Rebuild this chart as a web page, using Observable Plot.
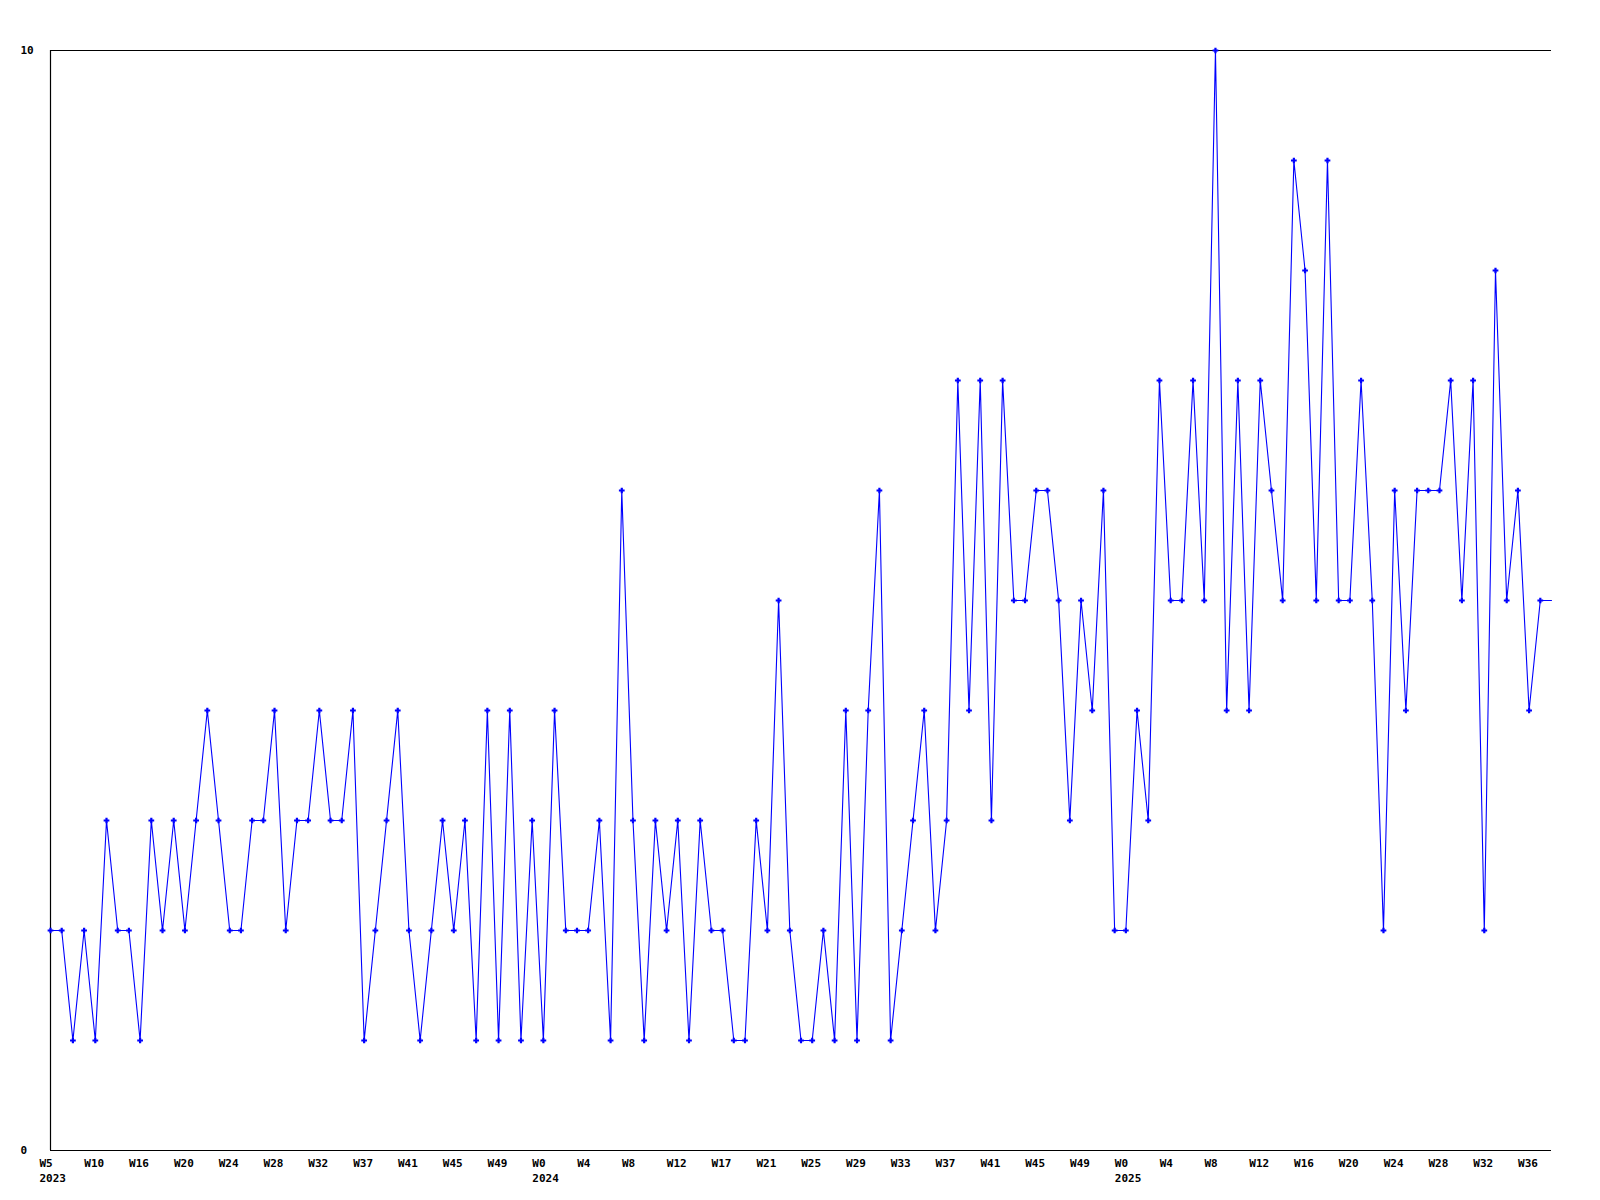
<!DOCTYPE html>
<html>
<head>
<meta charset="utf-8">
<script src="https://cdn.jsdelivr.net/npm/d3@7"></script>
<script src="https://cdn.jsdelivr.net/npm/@observablehq/plot@0.6"></script>
<style>
  html, body { margin: 0; padding: 0; background: #ffffff; }
  #chart { width: 1600px; height: 1200px; }
</style>
</head>
<body>
<div id="chart"></div>
<script>
// Weekly values (one per data point, left to right); last value carries the line to the right edge
const values = [
  2,2,1,2,1,3,2,2,1,3,
  2,3,2,3,4,3,2,2,3,3,
  4,2,3,3,4,3,3,4,1,2,
  3,4,2,1,2,3,2,3,1,4,
  1,4,1,3,1,4,2,2,2,3,
  1,6,3,1,3,2,3,1,3,2,
  2,1,1,3,2,5,2,1,1,2,
  1,4,1,4,6,1,2,3,4,2,
  3,7,4,7,3,7,5,5,6,6,
  5,3,5,4,6,2,2,4,3,7,
  5,5,7,5,10,4,7,4,7,6,
  5,9,8,5,9,5,5,7,5,2,
  6,4,6,6,6,7,5,7,2,8,
  5,6,4,5
];
const tailValue = [5];

// Tick labels: one every 4th data point
const weekLabels = ["W5","W10","W16","W20","W24","W28","W32","W37","W41","W45","W49",
  "W0","W4","W8","W12","W17","W21","W25","W29","W33","W37","W41","W45","W49",
  "W0","W4","W8","W12","W16","W20","W24","W28","W32","W36"];
const yearLabels = ["2023","","","","","","","","","","",
  "2024","","","","","","","","","","","","",
  "2025","","","","","","","","",""];
const tickStep = 4;
const yTickLabels = [0, 10];

const points = values.map((v, i) => ({i, v}));
const lineData = points.concat(tailValue.map((v, k) => ({i: values.length + k, v})));
const ticks = weekLabels.map((w, k) => ({i: k * tickStep, week: w, year: yearLabels[k]}));

const font = "DejaVu Sans Mono, monospace";

const chart = Plot.plot({
  width: 1600,
  height: 1200,
  marginLeft: 50,
  marginRight: 49,
  marginTop: 50,
  marginBottom: 50,
  x: {domain: [0, values.length], axis: null},
  y: {domain: [0, 10], axis: null},
  style: {background: "#ffffff", fontFamily: font},
  marks: [
    Plot.ruleY(yTickLabels, {stroke: "#000000", strokeWidth: 1.2}),
    Plot.ruleX([0], {stroke: "#000000", strokeWidth: 1.2}),
    Plot.line(lineData, {x: "i", y: "v", stroke: "#0000ff", strokeWidth: 1.1}),
    Plot.dot(points, {x: "i", y: "v", symbol: "plus", r: 2, stroke: "#0000ff", strokeWidth: 2.2}),
    Plot.text(yTickLabels, {
      y: d => d, text: d => String(d), frameAnchor: "left", dx: -30,
      textAnchor: "start", fill: "#000000", fontSize: 11, fontWeight: "bold", fontFamily: font
    }),
    Plot.text(ticks, {
      x: "i", text: "week", frameAnchor: "bottom", dy: 13, dx: -11,
      textAnchor: "start", lineAnchor: "middle", fill: "#000000", fontSize: 11, fontWeight: "bold", fontFamily: font
    }),
    Plot.text(ticks.filter(t => t.year), {
      x: "i", text: "year", frameAnchor: "bottom", dy: 28, dx: -11,
      textAnchor: "start", lineAnchor: "middle", fill: "#000000", fontSize: 11, fontWeight: "bold", fontFamily: font
    })
  ]
});
document.getElementById("chart").appendChild(chart);
</script>
</body>
</html>
